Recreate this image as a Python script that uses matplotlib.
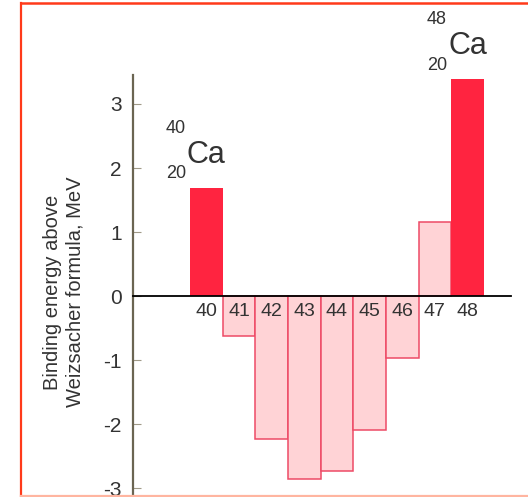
import matplotlib
matplotlib.use("Agg")
import matplotlib.pyplot as plt
from matplotlib.lines import Line2D

# datos
masas = [40, 41, 42, 43, 44, 45, 46, 47, 48]
energia = [1.69, -0.62, -2.23, -2.86, -2.73, -2.09, -0.97, 1.16, 3.39]
magicos = [40, 48]
ticks_y = [-3, -2, -1, 0, 1, 2, 3]

rojo = "#ff2440"
rosa = "#ffd3d6"
borde_rosa = "#ee4a66"
gris = "#6b6552"
texto = "#333333"

plt.rcParams['font.family'] = ['Liberation Sans', 'DejaVu Sans']

fig = plt.figure(figsize=(5.28, 4.97), dpi=100)
W, H = 528.0, 497.0
ax = fig.add_axes([133 / W, 0, 378 / W, (H - 75) / H])

for m, e in zip(masas, energia):
    if m in magicos:
        ax.bar(m, e, width=1.0, color=rojo, edgecolor=rojo, linewidth=0, zorder=1)
    else:
        ax.bar(m, e, width=1.0, color=rosa, edgecolor=borde_rosa, linewidth=1.1, zorder=1)

ax.set_xlim(37.756, 49.33)
ax.set_ylim(-3.14, 3.453)

ax.spines['top'].set_visible(False)
ax.spines['right'].set_visible(False)
ax.spines['left'].set_color(gris)
ax.spines['left'].set_linewidth(1.6)
ax.spines['bottom'].set_position(('data', 0))
ax.spines['bottom'].set_color('black')
ax.spines['bottom'].set_linewidth(1.3)
ax.spines['bottom'].set_zorder(3)

ax.set_yticks(ticks_y)
ax.set_yticklabels([str(t) for t in ticks_y])
ax.tick_params(axis='y', direction='in', length=6, width=0.8, color='#a09a88',
               pad=8, labelsize=15, labelcolor=texto)
ax.set_xticks(masas)
ax.set_xticklabels([str(m) for m in masas])
ax.tick_params(axis='x', length=0, pad=5, labelsize=14, labelcolor=texto)
ax.xaxis.set_zorder(4)

# etiquetas de los isotopos
for m, e, a in zip(masas, energia, masas):
    if m not in magicos:
        continue
    ax.annotate("Ca", xy=(m, e), xytext=(0, 24), textcoords='offset points',
                ha='center', va='center', fontsize=22, color=texto)
    ax.annotate(str(a), xy=(m, e), xytext=(-22, 43), textcoords='offset points',
                ha='center', va='center', fontsize=13, color=texto)
    ax.annotate("20", xy=(m, e), xytext=(-22, 10), textcoords='offset points',
                ha='center', va='center', fontsize=13, color=texto)

fig.text(64 / W, 1 - 292 / H, "Binding energy above\nWeizsacher formula, MeV",
         rotation=90, ha='center', va='center', fontsize=14.5, color=texto,
         linespacing=1.2)

# marco
fig.add_artist(Line2D([21 / W, 21 / W], [1 - 3 / H, 1 - 496 / H],
                      transform=fig.transFigure, color='#ff3a1a', lw=1.6))
fig.add_artist(Line2D([21 / W, 1], [1 - 3 / H, 1 - 3 / H],
                      transform=fig.transFigure, color='#ff3a1a', lw=1.8))
fig.add_artist(Line2D([21 / W, 1], [1 - 496 / H, 1 - 496 / H],
                      transform=fig.transFigure, color='#ffb5a0', lw=1.6))

fig.savefig("out.png", dpi=100)
